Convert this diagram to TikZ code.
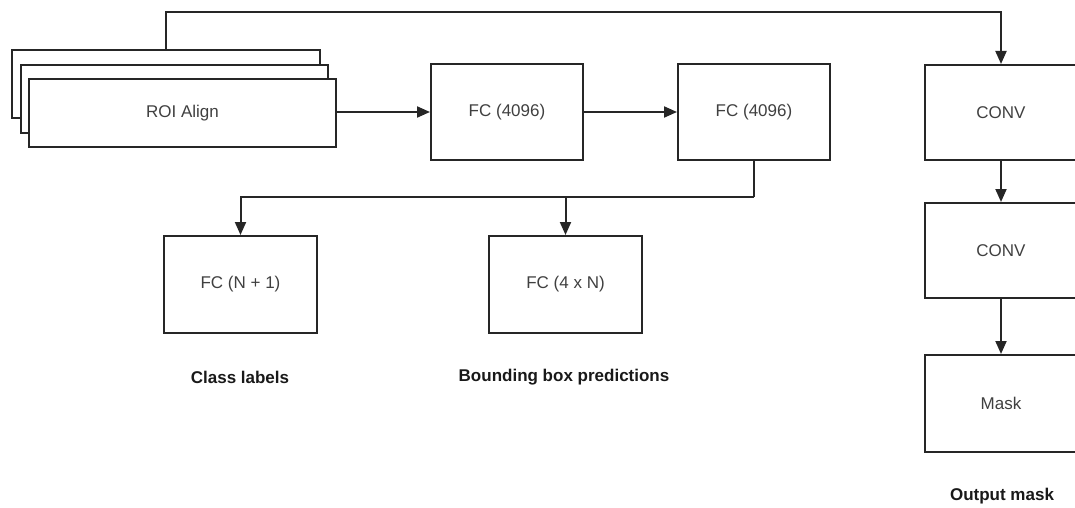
\documentclass[tikz,border=0pt]{standalone}
\usepackage{fontspec}
\setmainfont{Liberation Sans}
\usetikzlibrary{arrows.meta}
\definecolor{boxtext}{HTML}{404040}
\begin{document}
\begin{tikzpicture}[x=1pt,y=-1pt,
  line width=2pt,
  blk/.style={draw=black!85, fill=white, line width=2pt, rectangle,
    inner sep=0pt, text=boxtext, font=\fontsize{17}{20}\selectfont},
  lbl/.style={font=\bfseries\fontsize{17}{20}\selectfont, text=black!90, inner sep=0pt},
  arr/.style={draw=black!85, -{Triangle[length=13pt,width=11pt]}},
  link/.style={draw=black!85}]
\useasboundingbox (0,0) rectangle (1075,508);

% stacked ROI Align boxes
\node[blk, minimum width=308pt, minimum height=68pt] (roi1) at (166,84) {};
\node[blk, minimum width=307pt, minimum height=68pt] (roi2) at (174.5,99) {};
\node[blk, minimum width=307pt, minimum height=68pt] (roi3) at (182.5,113) {ROI Align};

% fully connected head
\node[blk, minimum width=152pt, minimum height=96pt] (fc1) at (507,112) {FC (4096)};
\node[blk, minimum width=152pt, minimum height=96pt] (fc2) at (754,112) {FC (4096)};
\node[blk, minimum width=153pt, minimum height=97pt] (cls) at (240.5,284.5) {FC (N + 1)};
\node[blk, minimum width=153pt, minimum height=97pt] (bbox) at (565.5,284.5) {FC (4 x N)};

% mask branch
\node[blk, minimum width=152pt, minimum height=95pt] (conv1) at (1001,112.5) {CONV};
\node[blk, minimum width=152pt, minimum height=95pt] (conv2) at (1001,250.5) {CONV};
\node[blk, minimum width=152pt, minimum height=97pt] (mask) at (1001,403.5) {Mask};

% output labels
\node[lbl] (clslbl) at (240,377) {Class labels};
\node[lbl] (bboxlbl) at (564,377) {Bounding box predictions};
\node[lbl] (masklbl) at (1002,496) {Output mask};

% connectors
\coordinate (top) at (166,12);
\coordinate (split) at (754,197);
\draw[arr] (roi1.north) -- (top) -| (conv1.north);
\draw[arr] (roi3.east |- fc1.west) -- (fc1.west);
\draw[arr] (fc1.east) -- (fc2.west);
\draw[link] (fc2.south) -- (split);
\draw[arr] (split) -| (cls.north);
\draw[arr] (bbox.north |- split) -- (bbox.north);
\draw[arr] (conv1.south) -- (conv2.north);
\draw[arr] (conv2.south) -- (mask.north);
\end{tikzpicture}
\end{document}
